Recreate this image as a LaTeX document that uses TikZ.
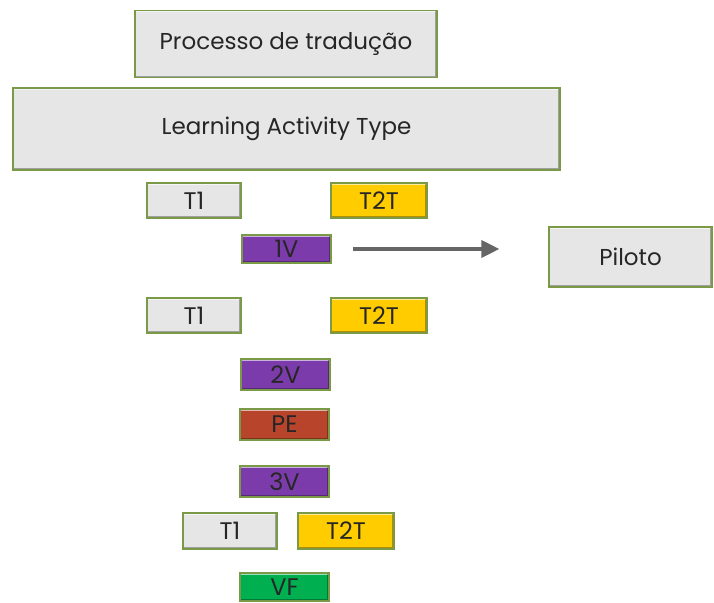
\documentclass[tikz,border=0pt]{standalone}
\usepackage{fontspec}
\setmainfont{Poppins}
\usetikzlibrary{arrows.meta}

\definecolor{tabgrey}{HTML}{E6E6E6}
\definecolor{tabgold}{HTML}{FFCC00}
\definecolor{tabviolet}{HTML}{7B3BAA}
\definecolor{tabbrick}{HTML}{B8452B}
\definecolor{tabgreen}{HTML}{00B050}
\definecolor{tabedge}{HTML}{7A9A48}

\tikzset{
  tab/.style 2 args={draw=tabedge, line width=1.2pt, rectangle,
    minimum width=#1, minimum height=#2, inner sep=0pt,
    text=black!85,
    path picture={
      \draw[white, opacity=.6, line width=4pt]
        (path picture bounding box.north west) -- (path picture bounding box.north east);
      \draw[black, opacity=.3, line width=4pt]
        (path picture bounding box.south west) -- (path picture bounding box.south east)
        -- (path picture bounding box.north east);
    }},
  big/.style={font=\fontsize{23}{26}\selectfont},
  small/.style={font=\fontsize{24}{26}\selectfont},
}

\begin{document}
\begin{tikzpicture}[x=1pt,y=-1pt]
    \useasboundingbox (0,0) rectangle (714,602);
    \clip (0,0) rectangle (714,602);
    % header boxes
    \node[tab={302pt}{67pt}, big, fill=tabgrey] (proc) at (286,44) {Processo de tradução};
    \node[tab={547pt}{82pt}, big, fill=tabgrey] (lat) at (286.5,129) {Learning Activity Type};
    % first round
    \node[tab={94pt}{35pt}, small, fill=tabgrey] (t1a) at (194,200.5) {T1};
    \node[tab={96pt}{35pt}, small, fill=tabgold] (t2ta) at (379,200.5) {T2T};
    \node[tab={89pt}{28pt}, small, fill=tabviolet] (v1) at (286.5,249) {1V};
    \node[tab={163pt}{60pt}, big, fill=tabgrey] (pilot) at (630.5,257) {Piloto};
    % second round
    \node[tab={94pt}{35pt}, small, fill=tabgrey] (t1b) at (194,315.5) {T1};
    \node[tab={96pt}{35pt}, small, fill=tabgold] (t2tb) at (379,315.5) {T2T};
    \node[tab={89pt}{31pt}, small, fill=tabviolet] (v2) at (285.5,374.5) {2V};
    \node[tab={89pt}{31pt}, small, fill=tabbrick] (pe) at (284.5,424.5) {PE};
    \node[tab={89pt}{31pt}, small, fill=tabviolet] (v3) at (284.5,481.5) {3V};
    % last round
    \node[tab={94pt}{36pt}, small, fill=tabgrey] (t1c) at (230,531) {T1};
    \node[tab={96pt}{36pt}, small, fill=tabgold] (t2tc) at (346,531) {T2T};
    \node[tab={89pt}{28pt}, small, fill=tabgreen, text depth=0pt] (vf) at (284.5,587) {VF};
    % arrow to the pilot
    \draw[draw=black!60, line width=3.5pt, shorten <=21pt, shorten >=49pt,
      -{Triangle[length=18pt,width=17pt]}]
      (v1.east) -- (v1.east -| pilot.west);
  \end{tikzpicture}
\end{document}
